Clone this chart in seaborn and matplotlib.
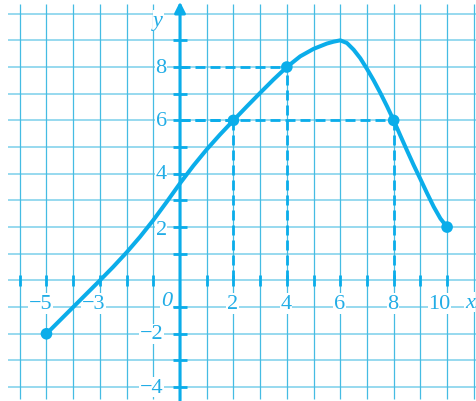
import numpy as np
import pandas as pd
import seaborn as sns
import matplotlib
matplotlib.use("Agg")
import matplotlib.pyplot as plt

# curve
curve_x = [-5, -4.5, -4, -3.5, -3, -2.5, -2, -1.5, -1, -0.5, 0, 0.5, 1, 1.5,
           2, 2.5, 3, 3.5, 4, 4.5, 5, 5.5, 5.75, 6, 6.25, 6.5, 6.75, 7, 7.25,
           7.5, 7.75, 8, 8.25, 8.5, 8.75, 9, 9.25, 9.5, 9.75, 10]
curve_y = [-2, -1.5, -1, -0.5, 0, 0.51, 1.05, 1.63, 2.26, 2.94, 3.64, 4.30,
           4.91, 5.47, 6.0, 6.52, 7.03, 7.53, 8.0, 8.4, 8.68, 8.88, 8.95,
           9.0, 8.9, 8.65, 8.33, 7.93, 7.5, 7.03, 6.53, 6.0, 5.43, 4.87,
           4.32, 3.8, 3.27, 2.76, 2.32, 2.0]

dot_x = [-5, 2, 4, 8, 10]
dot_y = [-2, 6, 8, 6, 2]

# dashed guides
guide_x = [2, 4, 8]
guide_y = [6, 8, 6]

x_labels = ["\u22125", "\u22123", "2", "4", "6", "8", "10"]
x_label_pos = [-5, -3, 2, 4, 6, 8, 10]
y_labels = ["8", "6", "4", "2", "\u22122", "\u22124"]
y_label_pos = [8, 6, 4, 2, -2, -4]

blue = "#0BADEA"
text_blue = "#22ADE6"
grid_v = "#45BCE3"
grid_h = "#97D9EF"

sns.set_style("white")
plt.rcParams["font.family"] = ["Liberation Serif", "DejaVu Serif"]

fig = plt.figure(figsize=(4.77, 4.02), dpi=100)
ax = fig.add_axes([0, 0, 1, 1])
ax.set_xlim(-6.74, 11.12)
ax.set_ylim(-4.52, 10.55)
ax.axis("off")

# grid
ax.hlines(np.arange(-4, 11), -6.45, 11.2, color=grid_h, lw=1.4, zorder=1)
ax.vlines(np.arange(-6, 12), -4.45, 10.35, color=grid_v, lw=0.9, zorder=1)

# axes with arrows
ax.annotate("", xy=(11.15, 0), xytext=(-6.48, 0),
            arrowprops=dict(arrowstyle="-|>", color=blue, lw=2.2,
                            mutation_scale=16, shrinkA=0, shrinkB=0), zorder=4)
ax.annotate("", xy=(0, 10.45), xytext=(0, -4.6),
            arrowprops=dict(arrowstyle="-|>", color=blue, lw=2.2,
                            mutation_scale=16, shrinkA=0, shrinkB=0), zorder=4)
ax.vlines([t for t in range(-6, 11) if t != 0], -0.22, 0.22, color=blue, lw=2, zorder=4)
ax.hlines([t for t in range(-4, 10) if t != 0], -0.26, 0.26, color=blue, lw=2, zorder=4)

# dashed guides
dash = (0, (3.6, 1.8))
for gx, gy in zip(guide_x, guide_y):
    ax.plot([gx, gx], [0, gy], color=blue, lw=2.0, linestyle=dash, zorder=3)
    ax.plot([0, gx], [gy, gy], color=blue, lw=2.0, linestyle=dash, zorder=3)

# curve and points
df = pd.DataFrame({"x": curve_x, "y": curve_y})
sns.lineplot(data=df, x="x", y="y", sort=False, estimator=None, color=blue,
             lw=2.9, ax=ax, zorder=5)
sns.scatterplot(x=dot_x, y=dot_y, color=blue, s=70, edgecolor="none", ax=ax, zorder=6)

box = dict(facecolor="white", edgecolor="none", pad=0.5)
fs = 16
for lab, pos in zip(x_labels, x_label_pos):
    if pos < 0:
        ax.text(pos + 0.21, -0.87, lab, ha="right", va="center", fontsize=fs,
                color=text_blue, bbox=box, zorder=2)
    else:
        shift = -0.28 if pos == 10 else -0.03
        ax.text(pos + shift, -0.87, lab, ha="center", va="center", fontsize=fs,
                color=text_blue, bbox=box, zorder=2)
ax.text(-0.5, -0.75, "0", ha="center", va="center", fontsize=fs,
        style="italic", color=text_blue, bbox=box, zorder=2)
ax.text(10.85, -0.82, "x", ha="center", va="center", fontsize=fs,
        style="italic", color=text_blue, bbox=box, zorder=2)
for lab, pos in zip(y_labels, y_label_pos):
    ax.text(-0.5 if pos > 0 else -0.62, pos - (0.1 if pos == 2 else 0), lab,
            ha="right", va="center", fontsize=fs, color=text_blue,
            bbox=box, zorder=2)
ax.text(-0.82, 9.75, "y", ha="center", va="center", fontsize=fs,
        style="italic", color=text_blue, bbox=box, zorder=2)

fig.savefig("out.png", dpi=100)
